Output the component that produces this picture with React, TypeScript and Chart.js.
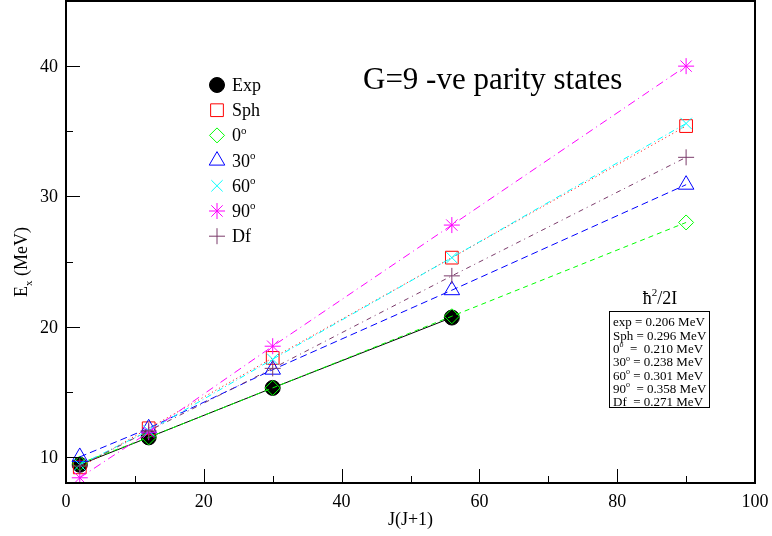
import React, { useEffect, useRef } from 'react';
import { Chart, registerables } from 'chart.js';

Chart.register(...registerables);

// ---------- data ----------
const J_VALUES = [2, 12, 30, 56, 90];
const EXP = [9.4, 11.5, 15.3, 20.7];
const SPH = [9.2, 12.2, 17.6, 25.3, 35.4];
const DEF_0 = [9.5, 11.5, 15.3, 20.8, 28.0];
const DEF_30 = [10.0, 12.2, 16.7, 22.8, 30.9];
const DEF_60 = [9.4, 12.0, 17.5, 25.3, 35.6];
const DEF_90 = [8.4, 11.9, 18.5, 27.8, 40.0];
const DF = [9.3, 12.0, 16.8, 23.9, 33.0];

const SERIES_NAMES = ['Exp', 'Sph', '0', '30', '60', '90', 'Df'];
const SERIES_SUP = [false, false, true, true, true, true, false];

const X_TICKS = [0, 20, 40, 60, 80, 100];
const Y_TICKS = [10, 20, 30, 40];

const TITLE = 'G=9 -ve parity states';
const X_TITLE = 'J(J+1)';
const BOX_HEADER = 'ħ';
const INERTIA_NAMES = ['exp', 'Sph', '0', '30', '60', '90', 'Df'];
const INERTIA_SUP = [false, false, true, true, true, true, false];
const INERTIA_SEP = [' = ', ' = ', '  =  ', ' = ', ' = ', '  = ', '  = '];
const INERTIA_VALUES = ['0.206', '0.296', '0.210', '0.238', '0.301', '0.358', '0.271'];

// ---------- styles ----------
const FONT = '"Liberation Serif", "Times New Roman", Times, serif';
const COLORS = ['#000000', '#ff0000', '#00ff00', '#0000ff', '#00ffff', '#ff00ff', '#7b3b6b'];
const STYLES = ['circle', 'rect', 'rectRot', 'triangle', 'crossRot', 'star', 'cross'];
const RADII = [7.5, 9, 7.5, 9, 8, 8, 8];
const DASHES: number[][] = [[], [1, 3], [5, 4], [7, 4], [6, 3, 1, 3], [8, 4, 1, 4], [5, 4, 1, 4]];
const SERIES = [EXP, SPH, DEF_0, DEF_30, DEF_60, DEF_90, DF];

type Part = { t: string; mode?: 'sup' | 'sub' };

function partFont(size: number, mode?: string) {
  const s = mode ? Math.round(size * 0.62) : size;
  return `${s}px ${FONT}`;
}

function richWidth(ctx: CanvasRenderingContext2D, parts: Part[], size: number) {
  let w = 0;
  for (const p of parts) {
    ctx.font = partFont(size, p.mode);
    w += ctx.measureText(p.t).width;
  }
  return w;
}

function drawRich(ctx: CanvasRenderingContext2D, x: number, baseline: number, parts: Part[], size: number, align: 'left' | 'center' | 'right' = 'left') {
  const w = richWidth(ctx, parts, size);
  let cx = align === 'center' ? x - w / 2 : align === 'right' ? x - w : x;
  ctx.textAlign = 'left';
  ctx.textBaseline = 'alphabetic';
  for (const p of parts) {
    ctx.font = partFont(size, p.mode);
    let dy = 0;
    if (p.mode === 'sup') dy = -size * 0.42;
    if (p.mode === 'sub') dy = size * 0.25;
    ctx.fillText(p.t, cx, baseline + dy);
    cx += ctx.measureText(p.t).width;
  }
}

function drawMarker(ctx: CanvasRenderingContext2D, style: string, x: number, y: number, r: number, color: string) {
  ctx.save();
  ctx.strokeStyle = color;
  ctx.fillStyle = color;
  ctx.lineWidth = 1;
  ctx.setLineDash([]);
  ctx.beginPath();
  const c = Math.SQRT1_2 * r;
  switch (style) {
    case 'circle':
      ctx.arc(x, y, r, 0, Math.PI * 2);
      ctx.fill();
      ctx.stroke();
      break;
    case 'rect':
      ctx.rect(x - c, y - c, 2 * c, 2 * c);
      ctx.stroke();
      break;
    case 'rectRot':
      ctx.moveTo(x - r, y);
      ctx.lineTo(x, y - r);
      ctx.lineTo(x + r, y);
      ctx.lineTo(x, y + r);
      ctx.closePath();
      ctx.stroke();
      break;
    case 'triangle': {
      const a = (2 * Math.PI) / 3;
      ctx.moveTo(x, y - r);
      ctx.lineTo(x + Math.sin(a) * r, y - Math.cos(a) * r);
      ctx.lineTo(x + Math.sin(2 * a) * r, y - Math.cos(2 * a) * r);
      ctx.closePath();
      ctx.stroke();
      break;
    }
    case 'crossRot':
      ctx.moveTo(x - c, y - c);
      ctx.lineTo(x + c, y + c);
      ctx.moveTo(x - c, y + c);
      ctx.lineTo(x + c, y - c);
      ctx.stroke();
      break;
    case 'star':
      ctx.moveTo(x - c, y - c);
      ctx.lineTo(x + c, y + c);
      ctx.moveTo(x - c, y + c);
      ctx.lineTo(x + c, y - c);
      ctx.moveTo(x, y - r);
      ctx.lineTo(x, y + r);
      ctx.moveTo(x - r, y);
      ctx.lineTo(x + r, y);
      ctx.stroke();
      break;
    case 'cross':
      ctx.moveTo(x, y - r);
      ctx.lineTo(x, y + r);
      ctx.moveTo(x - r, y);
      ctx.lineTo(x + r, y);
      ctx.stroke();
      break;
  }
  ctx.restore();
}

const decorPlugin = {
  id: 'decor',
  afterDraw(chart: any) {
    const ctx: CanvasRenderingContext2D = chart.ctx;
    const { left, right, top, bottom } = chart.chartArea;
    const xs = chart.scales.x;
    const ys = chart.scales.y;
    ctx.save();
    ctx.setLineDash([]);
    // frame
    ctx.strokeStyle = '#000';
    ctx.lineWidth = 2;
    ctx.strokeRect(left, top, right - left, bottom - top);
    // inward ticks
    ctx.lineWidth = 1;
    ctx.beginPath();
    for (let v = 0; v <= 100; v += 10) {
      const px = Math.round(xs.getPixelForValue(v)) + 0.5;
      const len = v % 20 === 0 ? 14 : 7;
      ctx.moveTo(px, bottom);
      ctx.lineTo(px, bottom - len);
    }
    for (let v = 10; v <= 45; v += 5) {
      const py = Math.round(ys.getPixelForValue(v)) + 0.5;
      const len = v % 10 === 0 ? 14 : 7;
      ctx.moveTo(left, py);
      ctx.lineTo(left + len, py);
    }
    ctx.stroke();

    ctx.fillStyle = '#000';
    // tick labels
    for (const v of X_TICKS) {
      drawRich(ctx, xs.getPixelForValue(v), bottom + 24, [{ t: String(v) }], 18, 'center');
    }
    for (const v of Y_TICKS) {
      drawRich(ctx, left - 8, ys.getPixelForValue(v) + 6, [{ t: String(v) }], 18, 'right');
    }

    // title
    drawRich(ctx, 363, 89, [{ t: TITLE }], 31);

    // legend
    for (let i = 0; i < SERIES_NAMES.length; i++) {
      const yc = 85 + i * 25.2;
      drawMarker(ctx, STYLES[i], 217, yc, RADII[i], COLORS[i]);
      ctx.fillStyle = '#000';
      const parts: Part[] = [{ t: SERIES_NAMES[i] }];
      if (SERIES_SUP[i]) parts.push({ t: 'o', mode: 'sup' });
      drawRich(ctx, 232, yc + 6, parts, 18);
    }

    // text box header
    drawRich(ctx, 660, 304, [{ t: BOX_HEADER }, { t: '2', mode: 'sup' }, { t: '/2I' }], 18, 'center');
    ctx.strokeStyle = '#000';
    ctx.lineWidth = 1;
    ctx.strokeRect(609.5, 311.5, 100, 96);
    for (let i = 0; i < INERTIA_NAMES.length; i++) {
      const yc = 322 + i * 13.3;
      const parts: Part[] = [{ t: INERTIA_NAMES[i] }];
      if (INERTIA_SUP[i]) parts.push({ t: 'o', mode: 'sup' });
      parts.push({ t: INERTIA_SEP[i] + INERTIA_VALUES[i] + ' MeV' });
      drawRich(ctx, 613, yc + 4.3, parts, 13);
    }

    // axis titles
    drawRich(ctx, (left + right) / 2, 525, [{ t: X_TITLE }], 18, 'center');
    ctx.save();
    ctx.translate(27, 262);
    ctx.rotate(-Math.PI / 2);
    drawRich(ctx, 0, 0, [{ t: 'E' }, { t: 'x', mode: 'sub' }, { t: ' (MeV)' }], 18, 'center');
    ctx.restore();
    ctx.restore();
  },
};

function zeroPad(s: any) {
  s.paddingTop = 0;
  s.paddingBottom = 0;
  s.paddingLeft = 0;
  s.paddingRight = 0;
}

export default function App() {
  const ref = useRef<HTMLCanvasElement | null>(null);
  useEffect(() => {
    if (!ref.current) return;
    const datasets = SERIES.map((vals, i) => ({
      label: SERIES_NAMES[i],
      data: vals.map((y, k) => ({ x: J_VALUES[k], y })),
      showLine: true,
      borderColor: COLORS[i],
      borderWidth: 1,
      borderDash: DASHES[i],
      backgroundColor: i === 0 ? COLORS[i] : 'rgba(0,0,0,0)',
      pointStyle: STYLES[i] as any,
      pointRadius: RADII[i],
      pointBorderWidth: 1,
      pointBorderColor: COLORS[i],
      pointBackgroundColor: i === 0 ? COLORS[i] : 'rgba(0,0,0,0)',
      order: SERIES.length - i,
      tension: 0,
    }));
    const chart = new Chart(ref.current, {
      type: 'scatter',
      data: { datasets },
      plugins: [decorPlugin],
      options: {
        animation: false,
        responsive: false,
        devicePixelRatio: 1,
        layout: { autoPadding: false, padding: { top: 1, right: 17, left: 0, bottom: 0 } },
        plugins: { legend: { display: false }, tooltip: { enabled: false } },
        scales: {
          x: {
            type: 'linear',
            min: 0,
            max: 100,
            afterFit: (s: any) => { s.height = 53; zeroPad(s); },
            grid: { display: false, drawTicks: false },
            border: { display: false },
            ticks: { display: false },
          },
          y: {
            type: 'linear',
            min: 8,
            max: 45,
            afterFit: (s: any) => { s.width = 66; zeroPad(s); },
            grid: { display: false, drawTicks: false },
            border: { display: false },
            ticks: { display: false },
          },
        },
      },
    });
    return () => chart.destroy();
  }, []);
  return (
    <div style={{ position: 'fixed', left: 0, top: 0, width: 772, height: 536, background: '#fff' }}>
      <canvas ref={ref} width={772} height={536} style={{ width: 772, height: 536 }} />
    </div>
  );
}
